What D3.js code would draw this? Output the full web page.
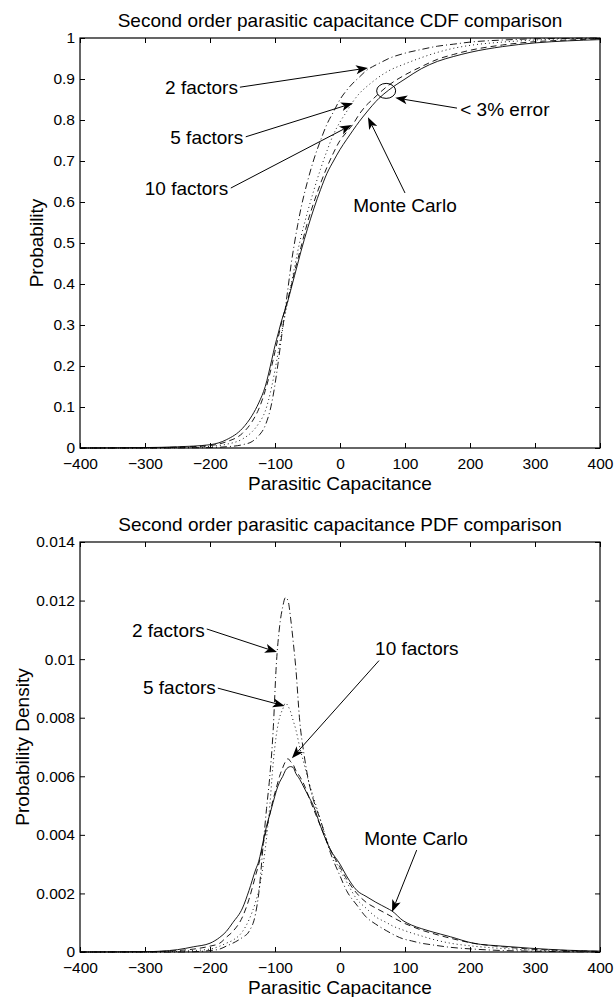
<!DOCTYPE html>
<html><head><meta charset="utf-8">
<script src="https://cdn.jsdelivr.net/npm/d3@7"></script>
<style>
body{margin:0;background:#fff}
svg{display:block;font-family:"Liberation Sans",Arial,Helvetica,sans-serif}
</style></head>
<body>
<svg id="c" width="616" height="997"></svg>
<script>
// ---------- DATA ----------
const cdfX = [-400,-300,-250,-200,-175,-150,-135,-125,-115,-105,-100,-95,-90,-85,-80,-75,-70,-65,-60,-50,-40,-30,-20,-10,0,10,20,30,40,50,60,75,100,125,150,175,200,250,300,350,400];
const cdfMonteCarlo = [0,0.001,0.003,0.008,0.02,0.048,0.08,0.11,0.15,0.215,0.25,0.28,0.31,0.335,0.36,0.39,0.42,0.45,0.48,0.535,0.585,0.63,0.67,0.70,0.728,0.752,0.775,0.797,0.817,0.836,0.853,0.873,0.90,0.925,0.943,0.955,0.965,0.979,0.988,0.993,0.996];
const cdf10 = [0,0.0005,0.002,0.006,0.015,0.036,0.065,0.095,0.14,0.2,0.235,0.27,0.305,0.335,0.365,0.395,0.43,0.46,0.49,0.55,0.60,0.645,0.685,0.72,0.75,0.77,0.79,0.815,0.835,0.85,0.865,0.885,0.91,0.93,0.948,0.96,0.97,0.983,0.991,0.995,0.998];
const cdf5 = [0,0.0003,0.001,0.004,0.009,0.022,0.04,0.06,0.09,0.15,0.19,0.235,0.28,0.32,0.36,0.40,0.44,0.48,0.515,0.575,0.63,0.68,0.725,0.765,0.795,0.82,0.845,0.865,0.88,0.893,0.905,0.92,0.937,0.952,0.965,0.975,0.982,0.99,0.995,0.998,0.999];
const cdf2 = [0,0,0.0002,0.001,0.003,0.008,0.016,0.03,0.055,0.11,0.155,0.21,0.27,0.33,0.39,0.45,0.50,0.545,0.585,0.65,0.705,0.75,0.79,0.82,0.85,0.872,0.89,0.905,0.92,0.93,0.938,0.95,0.963,0.972,0.98,0.985,0.99,0.995,0.998,0.999,1.0];

const pdfX = [-400,-300,-250,-225,-200,-185,-175,-165,-150,-140,-130,-125,-118,-113,-108,-103,-98,-93,-88,-84,-80,-76,-72,-68,-62,-55,-48,-41,-30,-15,0,10,26,40,55,72,80,97,110,125,140,170,205,250,292,350,400];
const pdfMonteCarlo = [0,0.00001,0.00008,0.00018,0.0003,0.0005,0.0007,0.001,0.0015,0.0021,0.0028,0.0031,0.0038,0.0043,0.0047,0.0051,0.0055,0.0058,0.006,0.0062,0.0063,0.00633,0.0063,0.0061,0.0059,0.0056,0.0053,0.005,0.0043,0.0035,0.003,0.0026,0.0021,0.0019,0.0017,0.0015,0.0014,0.00107,0.00092,0.0008,0.0007,0.00052,0.0003,0.0002,0.00013,0.00006,0.00003];
const pdf10 = [0,0.00001,0.00005,0.0001,0.0002,0.0003,0.0005,0.0007,0.0012,0.0018,0.0026,0.003,0.0037,0.0042,0.0047,0.0052,0.0056,0.006,0.0063,0.0065,0.0066,0.0065,0.0064,0.0062,0.006,0.0057,0.0053,0.0049,0.0043,0.0035,0.0029,0.0025,0.002,0.0017,0.0015,0.0013,0.0012,0.001,0.00088,0.00075,0.00065,0.00047,0.0003,0.00018,0.0001,0.00005,0.00002];
const pdf5 = [0,0,0.00002,0.00005,0.0001,0.0002,0.0003,0.0004,0.0007,0.0011,0.0017,0.0021,0.003,0.0039,0.005,0.0064,0.0074,0.008,0.0083,0.0085,0.0084,0.0082,0.0079,0.0076,0.007,0.0064,0.0058,0.0053,0.0045,0.0035,0.0028,0.0024,0.0018,0.0015,0.0012,0.001,0.0009,0.00075,0.00065,0.00055,0.00045,0.0003,0.0002,0.00012,0.00007,0.00003,0.00001];
const pdf2 = [0,0,0,0.00001,0.00005,0.0001,0.0002,0.0003,0.0005,0.0007,0.0013,0.002,0.0037,0.0049,0.006,0.0075,0.0098,0.0111,0.0118,0.0121,0.012,0.0114,0.0106,0.0097,0.0079,0.0067,0.0058,0.0052,0.0045,0.0034,0.0026,0.0021,0.0016,0.0012,0.00095,0.00072,0.00062,0.00045,0.00038,0.0003,0.00025,0.00016,0.0001,0.00005,0.00003,0.00001,0];

const xTicks = [-400,-300,-200,-100,0,100,200,300,400];
const cdfTicks = [0,0.1,0.2,0.3,0.4,0.5,0.6,0.7,0.8,0.9,1];
const pdfTicks = [0,0.002,0.004,0.006,0.008,0.01,0.012,0.014];
const pdfTickLabels = ["0","0.002","0.004","0.006","0.008","0.01","0.012","0.014"];

const seriesNames = ["Monte Carlo","10 factors","5 factors","2 factors"];
const seriesDash = ["none","6,4","1,3","7,3,1,3"];

// annotations in data coordinates: [label, textX, textY, anchor, lineX, lineY, tipX, tipY]
const cdfNotes = [
  ["2 factors", -157, 0.880, "end", -154, 0.880, 43, 0.927],
  ["5 factors", -149, 0.759, "end", -145, 0.759, 20, 0.841],
  ["10 factors", -172, 0.634, "end", -168, 0.634, 18, 0.788],
  ["< 3% error", 185, 0.827, "start", 180, 0.829, 85, 0.854],
  ["Monte Carlo", 100, 0.593, "middle", 100, 0.622, 43, 0.807]
];
const cdfCircle = [71, 0.871];
const pdfNotes = [
  ["2 factors", -208, 0.0110, "end", -205, 0.01103, -97, 0.01024],
  ["5 factors", -191, 0.00905, "end", -188, 0.00901, -85, 0.0084],
  ["10 factors", 54, 0.01038, "start", 60, 0.00995, -74, 0.00662],
  ["Monte Carlo", 117, 0.00389, "middle", 118, 0.00348, 80, 0.00137]
];

// ---------- DRAW ----------
const svg = d3.select("#c");
const x = d3.scaleLinear().domain([-400,400]).range([80,600]);
const fmtX = d => d < 0 ? "\u2212" + Math.abs(d) : String(d);

function arrow(g, x1, y1, x2, y2){
  const dx = x2-x1, dy = y2-y1, len = Math.hypot(dx,dy);
  const ux = dx/len, uy = dy/len, nx = -uy, ny = ux;
  const L = 12, W = 4.5, N = 9;
  g.append("line").attr("x1",x1).attr("y1",y1).attr("x2",x2-ux*N).attr("y2",y2-uy*N)
    .attr("stroke","#000").attr("stroke-width",1);
  const p = [[x2,y2],[x2-ux*L+nx*W, y2-uy*L+ny*W],[x2-ux*N, y2-uy*N],[x2-ux*L-nx*W, y2-uy*L-ny*W]];
  g.append("path").attr("d","M"+p.map(q=>q.join(",")).join("L")+"Z").attr("fill","#000");
}

function panel(opts){
  const y = d3.scaleLinear().domain(opts.yDomain).range([opts.bottom, opts.top]);
  const g = svg.append("g");
  const line = d3.line().x(d => x(d[0])).y(d => y(d[1])).curve(d3.curveMonotoneX);
  opts.series.forEach((vals, i) => {
    const pts = opts.xs.map((v, k) => [v, vals[k]]);
    g.append("path").attr("d", line(pts)).attr("fill","none")
      .attr("stroke","#000").attr("stroke-width",0.9)
      .attr("stroke-dasharray", seriesDash[i]);
  });
  const ax = (gen, tr) => g.append("g").attr("transform", tr).call(gen)
     .call(s => s.select(".domain").remove())
     .call(s => s.selectAll("line").attr("stroke","#000"))
     .call(s => s.selectAll("text").attr("fill","#000").style("font-size","15.5px").style("font-family","'Liberation Sans',Arial,Helvetica,sans-serif"));
  ax(d3.axisBottom(x).tickValues(xTicks).tickFormat(fmtX).tickSizeInner(-5).tickSizeOuter(0).tickPadding(10), `translate(0,${opts.bottom})`);
  ax(d3.axisTop(x).tickValues(xTicks).tickFormat("").tickSizeInner(-5).tickSizeOuter(0), `translate(0,${opts.top})`);
  ax(d3.axisLeft(y).tickValues(opts.yTicks).tickFormat((d,i) => opts.yLabels[i]).tickSizeInner(-5).tickSizeOuter(0).tickPadding(5), `translate(80,0)`);
  ax(d3.axisRight(y).tickValues(opts.yTicks).tickFormat("").tickSizeInner(-5).tickSizeOuter(0), `translate(600,0)`);
  g.append("rect").attr("x",80).attr("y",opts.top).attr("width",520).attr("height",opts.bottom-opts.top)
    .attr("fill","none").attr("stroke","#000").attr("stroke-width",1.2);
  g.append("text").attr("x",340).attr("y",opts.top-11).attr("text-anchor","middle")
    .style("font-size","19px").text(opts.title);
  g.append("text").attr("x",340).attr("y",opts.bottom+42).attr("text-anchor","middle")
    .style("font-size","19px").text("Parasitic Capacitance");
  g.append("text").attr("transform",`translate(${opts.ylabX},${(opts.top+opts.bottom)/2}) rotate(-90)`)
    .attr("text-anchor","middle").style("font-size","19px").text(opts.ylabel);
  opts.notes.forEach(n => {
    const [lab, tx, ty, anc, lx, ly, px, py] = n;
    g.append("text").attr("x", x(tx)).attr("y", y(ty)).attr("dy","0.36em")
      .attr("text-anchor", anc).style("font-size","19px").text(lab);
    arrow(g, x(lx), y(ly), x(px), y(py));
  });
  return {g, y};
}

const cdfPanel = panel({
  top:38, bottom:448, yDomain:[0,1], yTicks:cdfTicks, yLabels:cdfTicks.map(String),
  xs:cdfX, series:[cdfMonteCarlo, cdf10, cdf5, cdf2],
  title:"Second order parasitic capacitance CDF comparison", ylabel:"Probability", ylabX:43,
  notes:cdfNotes
});
cdfPanel.g.append("ellipse").attr("cx", x(cdfCircle[0])).attr("cy", cdfPanel.y(cdfCircle[1]))
  .attr("rx",9.5).attr("ry",7.5).attr("fill","none").attr("stroke","#000").attr("stroke-width",1);

panel({
  top:542, bottom:952, yDomain:[0,0.014], yTicks:pdfTicks, yLabels:pdfTickLabels,
  xs:pdfX, series:[pdfMonteCarlo, pdf10, pdf5, pdf2],
  title:"Second order parasitic capacitance PDF comparison", ylabel:"Probability Density", ylabX:29,
  notes:pdfNotes
});
</script>
</body></html>
